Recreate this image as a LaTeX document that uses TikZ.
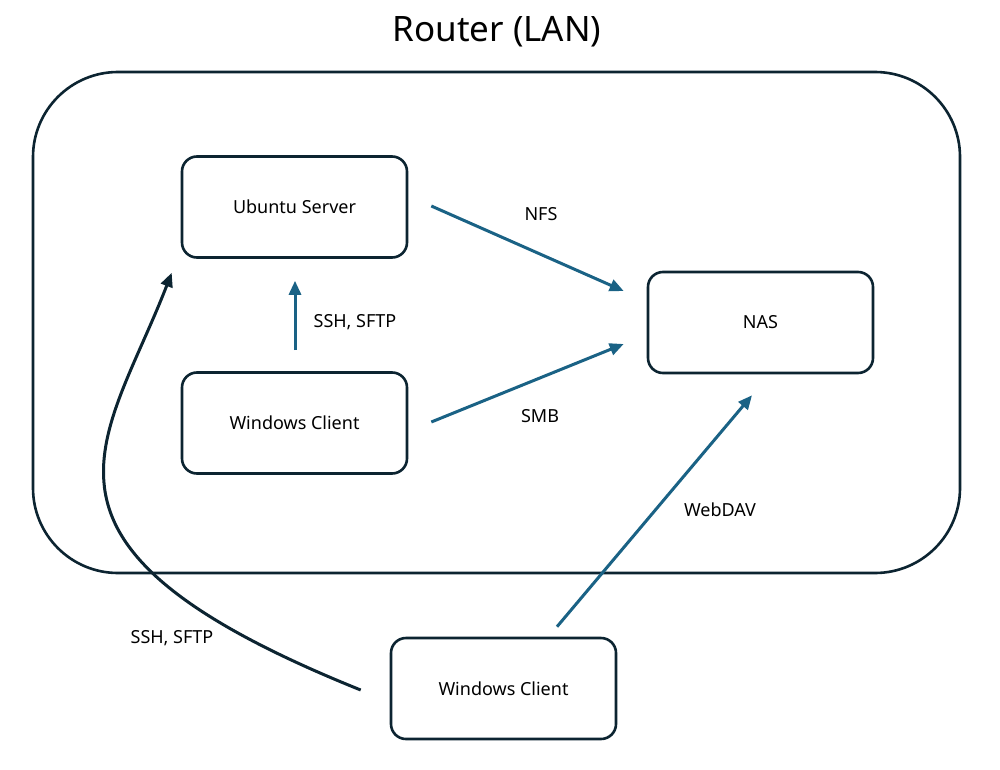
\documentclass[tikz,border=0pt]{standalone}
\usepackage{fontspec}
\setmainfont{Noto Sans}
\usetikzlibrary{arrows.meta}
\definecolor{dark}{HTML}{0C2431}
\definecolor{blu}{HTML}{1A6285}
\begin{document}
\begin{tikzpicture}[x=1pt,y=-1pt,
  box/.style={draw=dark,line width=2.6pt,rounded corners=15pt,minimum width=225pt,minimum height=101pt,inner sep=0pt,font=\fontsize{18}{20}\selectfont},
  lbl/.style={font=\fontsize{18}{20}\selectfont,text=black,inner sep=0pt},
  barrow/.style={draw=blu,line width=3pt,-{Triangle[length=14pt,width=12pt]}},
  darrow/.style={draw=dark,line width=3pt,-{Triangle[length=14pt,width=12pt]}}]
\useasboundingbox[fill=white] (0,0) rectangle (1000,770);
\node[font=\fontsize{35}{40}\selectfont,inner sep=0pt] (title) at (497,32) {Router (LAN)};
\draw[dark,line width=2.6pt,rounded corners=85pt] (33,72) rectangle (960,573);
\node[box] (ub) at (294.5,207) {Ubuntu Server};
\node[box] (nas) at (760.5,322.5) {NAS};
\node[box] (w1) at (294.5,423) {Windows Client};
\node[box] (w2) at (503.5,688.5) {Windows Client};
\draw[barrow] ([shift={(23,-1)}]ub.east) -- ([shift={(-23,-31.5)}]nas.west);
\draw[barrow] ([shift={(23,-1)}]w1.east) -- ([shift={(-23,21.5)}]nas.west);
\draw[barrow] ([shift={(0.5,-21)}]w1.north) -- ([shift={(0.5,22)}]ub.south);
\draw[barrow] ([shift={(53.5,-10)}]w2.north) -- ([shift={(-8.5,21)}]nas.south);
\draw[darrow] ([shift={(-29,1.5)}]w2.west) .. controls (0,545) and (105,445) .. ([shift={(-9,14)}]ub.south west);
\node[lbl] (lnfs) at (541,214) {NFS};
\node[lbl] (lsmb) at (540,416) {SMB};
\node[lbl] (lssh1) at (355,322) {SSH, SFTP};
\node[lbl] (lweb) at (720,510) {WebDAV};
\node[lbl] (lssh2) at (172,638) {SSH, SFTP};
\end{tikzpicture}
\end{document}
